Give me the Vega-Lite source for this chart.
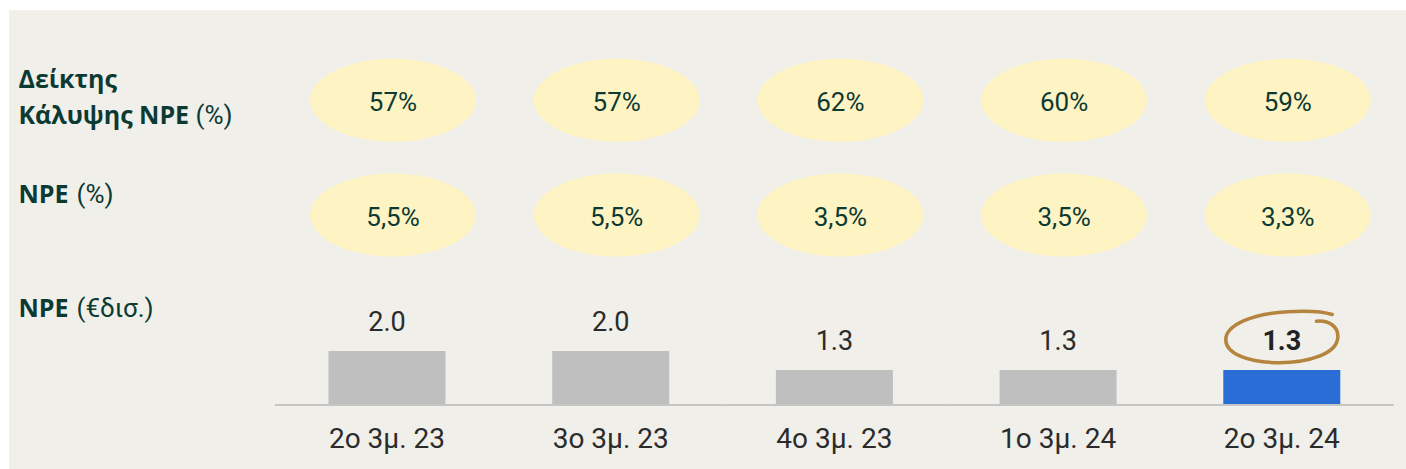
{
  "$schema": "https://vega.github.io/schema/vega-lite/v6.json",
  "width": 1397,
  "height": 459,
  "autosize": "none",
  "padding": {"left": 9, "top": 10, "right": 0, "bottom": 0},
  "background": "#ffffff",
  "config": {
    "view": {"fill": "#f0efea", "stroke": null},
    "font": "Roboto"
  },
  "datasets": {
    "ratios": [
      {"quarter": "2ο 3μ. 23", "metric": "Δείκτης Κάλυψης NPE (%)", "value": 57, "label": "57%"},
      {"quarter": "3ο 3μ. 23", "metric": "Δείκτης Κάλυψης NPE (%)", "value": 57, "label": "57%"},
      {"quarter": "4ο 3μ. 23", "metric": "Δείκτης Κάλυψης NPE (%)", "value": 62, "label": "62%"},
      {"quarter": "1ο 3μ. 24", "metric": "Δείκτης Κάλυψης NPE (%)", "value": 60, "label": "60%"},
      {"quarter": "2ο 3μ. 24", "metric": "Δείκτης Κάλυψης NPE (%)", "value": 59, "label": "59%"},
      {"quarter": "2ο 3μ. 23", "metric": "NPE (%)", "value": 5.5, "label": "5,5%"},
      {"quarter": "3ο 3μ. 23", "metric": "NPE (%)", "value": 5.5, "label": "5,5%"},
      {"quarter": "4ο 3μ. 23", "metric": "NPE (%)", "value": 3.5, "label": "3,5%"},
      {"quarter": "1ο 3μ. 24", "metric": "NPE (%)", "value": 3.5, "label": "3,5%"},
      {"quarter": "2ο 3μ. 24", "metric": "NPE (%)", "value": 3.3, "label": "3,3%"}
    ],
    "npe": [
      {"quarter": "2ο 3μ. 23", "value": 2.0},
      {"quarter": "3ο 3μ. 23", "value": 2.0},
      {"quarter": "4ο 3μ. 23", "value": 1.3},
      {"quarter": "1ο 3μ. 24", "value": 1.3},
      {"quarter": "2ο 3μ. 24", "value": 1.3}
    ]
  },
  "encoding": {
    "x": {
      "field": "quarter",
      "type": "nominal",
      "sort": null,
      "scale": {
        "type": "band",
        "domain": ["2ο 3μ. 23", "3ο 3μ. 23", "4ο 3μ. 23", "1ο 3μ. 24", "2ο 3μ. 24"],
        "paddingInner": 0.477,
        "paddingOuter": 0.861,
        "align": 0.8294,
        "round": false
      },
      "axis": {
        "orient": "bottom",
        "offset": -64,
        "title": null,
        "domain": false,
        "ticks": false,
        "tickSize": 0,
        "grid": false,
        "labelAngle": 0,
        "labelFont": "Roboto",
        "labelFontSize": 28,
        "labelColor": "#2b2b2b",
        "labelBaseline": "alphabetic",
        "labelPadding": 42,
        "labelOverlap": false,
        "labelLimit": 0
      }
    }
  },
  "layer": [
    {
      "data": {"name": "ratios"},
      "mark": {
        "type": "point",
        "shape": "M-1,0C-1,-0.276 -0.552,-0.5 0,-0.5C0.552,-0.5 1,-0.276 1,0C1,0.276 0.552,0.5 0,0.5C-0.552,0.5 -1,0.276 -1,0Z",
        "size": 27556,
        "filled": true,
        "color": "#fef3c2",
        "opacity": 1,
        "strokeWidth": 0,
        "xOffset": 6
      },
      "encoding": {
        "y": {
          "field": "metric",
          "type": "nominal",
          "sort": null,
          "scale": {
            "type": "point",
            "domain": ["Δείκτης Κάλυψης NPE (%)", "NPE (%)", "NPE (€δισ.)"],
            "padding": 1.0044,
            "align": 0.3935,
            "round": false
          },
          "axis": {
            "orient": "left",
            "title": null,
            "domain": false,
            "ticks": false,
            "tickSize": 0,
            "grid": false,
            "labelExpr": "datum.value == 'Δείκτης Κάλυψης NPE (%)' ? ['Δείκτης', 'Κάλυψης NPE'] : 'NPE'",
            "labelAlign": "left",
            "labelBaseline": "alphabetic",
            "labelPadding": -9,
            "labelOffset": -13,
            "labelLineHeight": 36,
            "labelFont": "Open Sans",
            "labelFontSize": 25,
            "labelFontWeight": "bold",
            "labelColor": "#0c3a33",
            "labelOverlap": false,
            "labelLimit": 0
          }
        }
      }
    },
    {
      "data": {"name": "ratios"},
      "mark": {
        "type": "text",
        "font": "Roboto",
        "fontSize": 26,
        "color": "#0c3a33",
        "baseline": "alphabetic",
        "align": "center",
        "dy": 11,
        "xOffset": 6
      },
      "encoding": {
        "y": {
          "field": "metric",
          "type": "nominal",
          "sort": null,
          "scale": {
            "type": "point",
            "domain": ["Δείκτης Κάλυψης NPE (%)", "NPE (%)", "NPE (€δισ.)"],
            "padding": 1.0044,
            "align": 0.3935,
            "round": false
          },
          "axis": {
            "orient": "right",
            "offset": -1397,
            "title": null,
            "domain": false,
            "ticks": false,
            "tickSize": 0,
            "grid": false,
            "labelExpr": "datum.value == 'NPE (%)' ? '(%)' : datum.value == 'NPE (€δισ.)' ? '(€δισ.)' : ['', '(%)']",
            "labelAlign": "left",
            "labelBaseline": "alphabetic",
            "labelPadding": {"condition": {"test": "datum.value == 'Δείκτης Κάλυψης NPE (%)'", "value": 186}, "value": 67},
            "labelOffset": -13,
            "labelLineHeight": 36,
            "labelFont": "Roboto",
            "labelFontSize": 26,
            "labelFontWeight": "normal",
            "labelColor": "#0c3a33",
            "labelOverlap": false,
            "labelLimit": 0
          }
        },
        "text": {"field": "label", "type": "nominal"}
      }
    },
    {
      "data": {"name": "npe"},
      "encoding": {
        "y": {
          "field": "value",
          "type": "quantitative",
          "scale": {"domain": [-2.37, 14.63], "nice": false, "zero": false},
          "axis": null
        }
      },
      "layer": [
        {
          "mark": {"type": "bar"},
          "encoding": {
            "y2": {"datum": 0},
            "color": {
              "condition": {"test": "datum.quarter == '2ο 3μ. 24'", "value": "#2a6dd6"},
              "value": "#bfbfbf"
            }
          }
        },
        {
          "mark": {"type": "tick", "size": 224, "thickness": 2, "color": "#c6c6c6", "opacity": 1},
          "encoding": {
            "y": {"datum": 0, "type": "quantitative", "axis": null}
          }
        },
        {
          "transform": [{"filter": "datum.quarter != '2ο 3μ. 24'"}],
          "mark": {"type": "text", "font": "Roboto", "fontSize": 27, "color": "#2b2b2b", "baseline": "alphabetic", "align": "center", "dy": -20},
          "encoding": {
            "text": {"field": "value", "type": "quantitative", "format": ".1f"}
          }
        },
        {
          "transform": [{"filter": "datum.quarter == '2ο 3μ. 24'"}],
          "mark": {"type": "text", "font": "Roboto", "fontSize": 27, "fontWeight": "bold", "color": "#222222", "baseline": "alphabetic", "align": "center", "dy": -20},
          "encoding": {
            "text": {"field": "value", "type": "quantitative", "format": ".1f"}
          }
        },
        {
          "transform": [{"filter": "datum.quarter == '2ο 3μ. 24'"}],
          "mark": {
            "type": "point",
            "shape": "M0.62,-0.28C0.85,-0.3 1.02,-0.18 1.0,0.02C0.97,0.3 0.5,0.46 -0.05,0.46C-0.6,0.46 -1.0,0.3 -1.0,0.05C-1.0,-0.22 -0.5,-0.42 0.1,-0.45C0.45,-0.47 0.75,-0.45 0.9,-0.4",
            "size": 12544,
            "filled": false,
            "color": "#b5843e",
            "strokeWidth": 3.5,
            "strokeCap": "round",
            "opacity": 1,
            "yOffset": -33
          }
        }
      ]
    }
  ],
  "resolve": {"scale": {"y": "independent"}, "axis": {"y": "independent"}}
}
